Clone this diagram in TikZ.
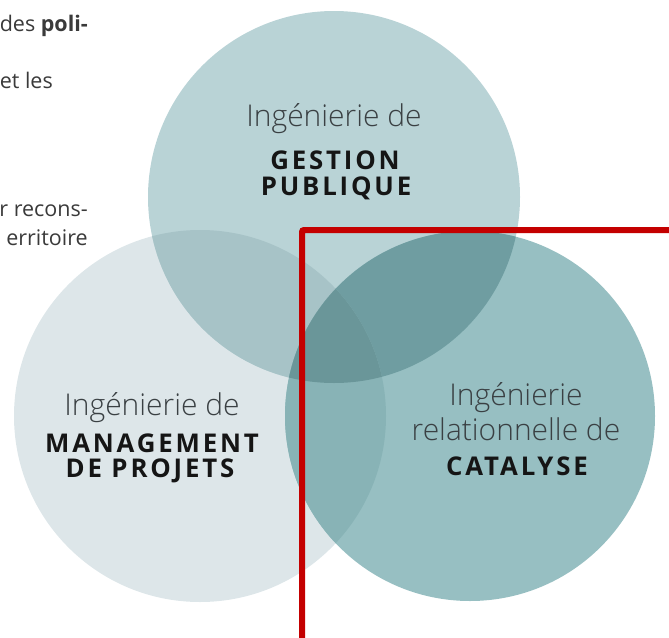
\documentclass[tikz,border=0pt]{standalone}
\usepackage{fontspec}
\setmainfont{Open Sans}
\newfontfamily\capsfont[LetterSpace=11]{Open Sans Bold}
\newfontfamily\lightfont{Open Sans Light}
\definecolor{cL}{HTML}{DDE6E9}
\definecolor{cT}{HTML}{B9D3D6}
\definecolor{cR}{HTML}{97BFC2}
\definecolor{cTL}{HTML}{A7C3C7}
\definecolor{cLR}{HTML}{88B3B6}
\definecolor{cTR}{HTML}{6F9DA1}
\definecolor{cTLR}{HTML}{6A9699}
\definecolor{redline}{HTML}{C40000}
\definecolor{lightTxt}{HTML}{3A4043}
\definecolor{boldTxt}{HTML}{151515}
\definecolor{bodyTxt}{HTML}{3A3A3A}
\begin{document}
\begin{tikzpicture}[x=1pt,y=-1pt,
  light/.style={font=\lightfont\fontsize{30}{30}\selectfont, text=lightTxt, inner sep=0pt, anchor=base},
  heavy/.style={font=\capsfont\fontsize{25.8}{25.8}\selectfont, text=boldTxt, inner sep=0pt, anchor=base},
  frag/.style={font=\fontsize{21.5}{21.5}\selectfont, text=bodyTxt, inner sep=0pt, anchor=base east}]
\useasboundingbox (0,0) rectangle (669,637);
\coordinate (T) at (334,197);
\coordinate (L) at (200,416);
\coordinate (R) at (470,416);
\def\rT{186}\def\rL{186}\def\rR{185}
% circles
\fill[cL] (L) circle (\rL);
\fill[cT] (T) circle (\rT);
\fill[cR] (R) circle (\rR);
\begin{scope}\clip (T) circle (\rT); \fill[cTL] (L) circle (\rL);\end{scope}
\begin{scope}\clip (T) circle (\rT); \fill[cTR] (R) circle (\rR);\end{scope}
\begin{scope}\clip (L) circle (\rL); \fill[cLR] (R) circle (\rR);\end{scope}
\begin{scope}\clip (T) circle (\rT); \clip (L) circle (\rL); \fill[cTLR] (R) circle (\rR);\end{scope}
% fragments of paragraph
\node[frag] (f1) at (88,31) {des \textbf{poli-}};
\node[frag] (f2) at (53,88) {et les};
\node[frag] (f3) at (88,216) {r recons-};
\node[frag] (f4) at (88,245) {erritoire};
% top circle text
\node[light] (t1) at (334,126) {Ingénierie de};
\node[heavy] (t2) at (335,169) {GESTION};
\node[heavy] (t3) at (336,195) {PUBLIQUE};
% left circle text
\node[light] (l1) at (152,415) {Ingénierie de};
\node[heavy] (l2) at (152,452) {MANAGEMENT};
\node[heavy] (l3) at (150,477) {DE PROJETS};
% right circle text
\node[light] (r1) at (516,405) {Ingénierie};
\node[light] (r2) at (516,440) {relationnelle de};
\node[heavy] (r3) at (517,475) {CATALYSE};
% red frame
\coordinate (rb) at (302,645);
\coordinate (rc) at (302,230);
\coordinate (re) at (680,230);
\draw[redline, line width=6pt, rounded corners=2pt] (rb) -- (rc) -- (re);
\end{tikzpicture}
\end{document}
